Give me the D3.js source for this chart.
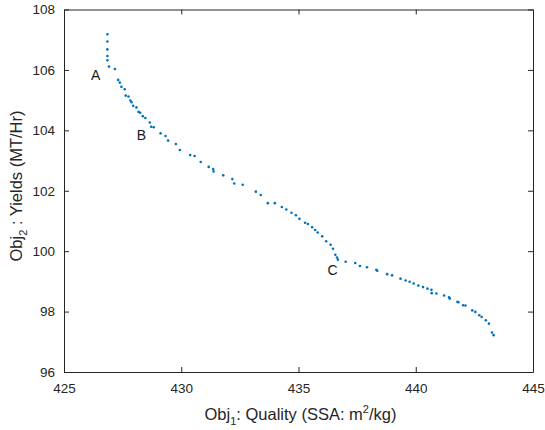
<!DOCTYPE html>
<html>
<head>
<meta charset="utf-8">
<script src="https://cdn.jsdelivr.net/npm/d3@7"></script>
<style>
  body { margin: 0; background: #fff; }
  text { font-family: "Liberation Sans", Arial, sans-serif; }
</style>
</head>
<body>
<div id="chart"></div>
<script>
// Pareto front points
const quality = [
  426.85, 426.85, 426.85, 426.85, 426.85, 426.92, 427.17, 427.31, 427.38, 427.45,
  427.59, 427.63, 427.75, 427.83, 427.88, 427.95, 428.09, 428.18, 428.25, 428.36,
  428.47, 428.66, 428.72, 428.83, 429.12, 429.33, 429.44, 429.77, 429.94, 430.38,
  430.57, 430.83, 431.17, 431.36, 431.38, 431.79, 432.18, 432.26, 432.62, 433.18,
  433.39, 433.69, 433.99, 434.29, 434.48, 434.70, 434.89, 435.04, 435.28, 435.40,
  435.58, 435.71, 435.82, 436.01, 436.18, 436.37, 436.47, 436.57, 436.64, 436.68,
  437.01, 437.42, 437.62, 437.92, 438.32, 438.36, 438.78, 438.99, 439.35, 439.57,
  439.74, 439.91, 440.11, 440.31, 440.50, 440.67, 440.68, 440.88, 441.21, 441.42,
  441.45, 441.78, 441.82, 442.02, 442.12, 442.41, 442.54, 442.71, 442.81, 442.99,
  443.12, 443.25, 443.32
];
const yields = [
  107.18, 106.94, 106.68, 106.46, 106.32, 106.11, 106.03, 105.67, 105.58, 105.44,
  105.36, 105.15, 105.12, 104.99, 104.93, 104.81, 104.76, 104.61, 104.58, 104.47,
  104.41, 104.26, 104.12, 104.10, 103.90, 103.81, 103.66, 103.55, 103.35, 103.18,
  103.15, 102.95, 102.79, 102.72, 102.64, 102.51, 102.39, 102.24, 102.20, 101.97,
  101.86, 101.59, 101.59, 101.46, 101.38, 101.27, 101.19, 101.07, 100.94, 100.90,
  100.79, 100.70, 100.62, 100.49, 100.33, 100.21, 100.08, 99.88, 99.79, 99.72,
  99.65, 99.61, 99.51, 99.47, 99.38, 99.35, 99.24, 99.20, 99.09, 99.03,
  98.99, 98.93, 98.86, 98.81, 98.76, 98.72, 98.61, 98.60, 98.53, 98.47,
  98.43, 98.32, 98.31, 98.21, 98.20, 98.04, 97.99, 97.88, 97.82, 97.71,
  97.60, 97.31, 97.22
];
const xTicks = [425, 430, 435, 440, 445];
const yTicks = [96, 98, 100, 102, 104, 106, 108];
const annoNames = ["A", "B", "C"];
const annoX = [426.35, 428.3, 436.45];
const annoY = [105.8, 103.8, 99.35];

const W = 545, H = 430;
const margin = { top: 9.5, right: 12, bottom: 58, left: 64 };
const width = W - margin.left - margin.right,
  height = H - margin.top - margin.bottom;
const axisColor = "#262626";

const svg = d3.select("#chart").append("svg")
  .attr("width", W).attr("height", H);
const g = svg.append("g")
  .attr("transform", "translate(" + margin.left + "," + margin.top + ")");

const x = d3.scaleLinear().domain([425, 445]).range([0, width]);
const y = d3.scaleLinear().domain([96, 108]).range([height, 0]);

// axes, MATLAB style: ticks inside, box on
function styleAxis(sel) {
  sel.select(".domain").attr("stroke", axisColor).attr("stroke-width", 1);
  sel.selectAll(".tick line").attr("stroke", axisColor);
  sel.selectAll(".tick text").attr("fill", axisColor)
    .style("font-size", "13.5px").style("font-family", "Liberation Sans, Arial, sans-serif");
}

g.append("g").attr("transform", "translate(0," + height + ")")
  .call(d3.axisBottom(x).tickValues(xTicks).tickSizeInner(-5).tickSizeOuter(0).tickPadding(11))
  .call(styleAxis);
g.append("g")
  .call(d3.axisTop(x).tickValues(xTicks).tickSizeInner(-5).tickSizeOuter(0).tickFormat(""))
  .call(styleAxis);
g.append("g")
  .call(d3.axisLeft(y).tickValues(yTicks).tickSizeInner(-5).tickSizeOuter(0).tickPadding(9))
  .call(styleAxis);
g.append("g").attr("transform", "translate(" + width + ",0)")
  .call(d3.axisRight(y).tickValues(yTicks).tickSizeInner(-5).tickSizeOuter(0).tickFormat(""))
  .call(styleAxis);

// points
g.selectAll("circle.pt")
  .data(quality.map((q, i) => [q, yields[i]]))
  .enter().append("circle")
  .attr("class", "pt")
  .attr("cx", d => x(d[0]))
  .attr("cy", d => y(d[1]))
  .attr("r", 1.3)
  .attr("fill", "#0072BD");

// annotations
g.selectAll("text.anno")
  .data(annoNames)
  .enter().append("text")
  .attr("class", "anno")
  .attr("x", (d, i) => x(annoX[i]))
  .attr("y", (d, i) => y(annoY[i]))
  .attr("text-anchor", "middle")
  .attr("dominant-baseline", "middle")
  .attr("fill", "#1a1a1a")
  .style("font-size", "14px")
  .text(d => d);

// axis labels
const xl = svg.append("text")
  .attr("x", margin.left + width / 2 + 2)
  .attr("y", 420)
  .attr("text-anchor", "middle")
  .attr("fill", axisColor)
  .style("font-size", "16.5px");
xl.append("tspan").text("Obj");
xl.append("tspan").attr("dy", 5).style("font-size", "11px").text("1");
xl.append("tspan").attr("dy", -5).text(": Quality (SSA: m");
xl.append("tspan").attr("dy", -7).style("font-size", "11px").text("2");
xl.append("tspan").attr("dy", 7).text("/kg)");

const yl = svg.append("text")
  .attr("transform", "translate(22,186) rotate(-90)")
  .attr("text-anchor", "middle")
  .attr("fill", axisColor)
  .style("font-size", "16.5px");
yl.append("tspan").text("Obj");
yl.append("tspan").attr("dy", 5).style("font-size", "11px").text("2");
yl.append("tspan").attr("dy", -5).text(" : Yields (MT/Hr)");
</script>
</body>
</html>
